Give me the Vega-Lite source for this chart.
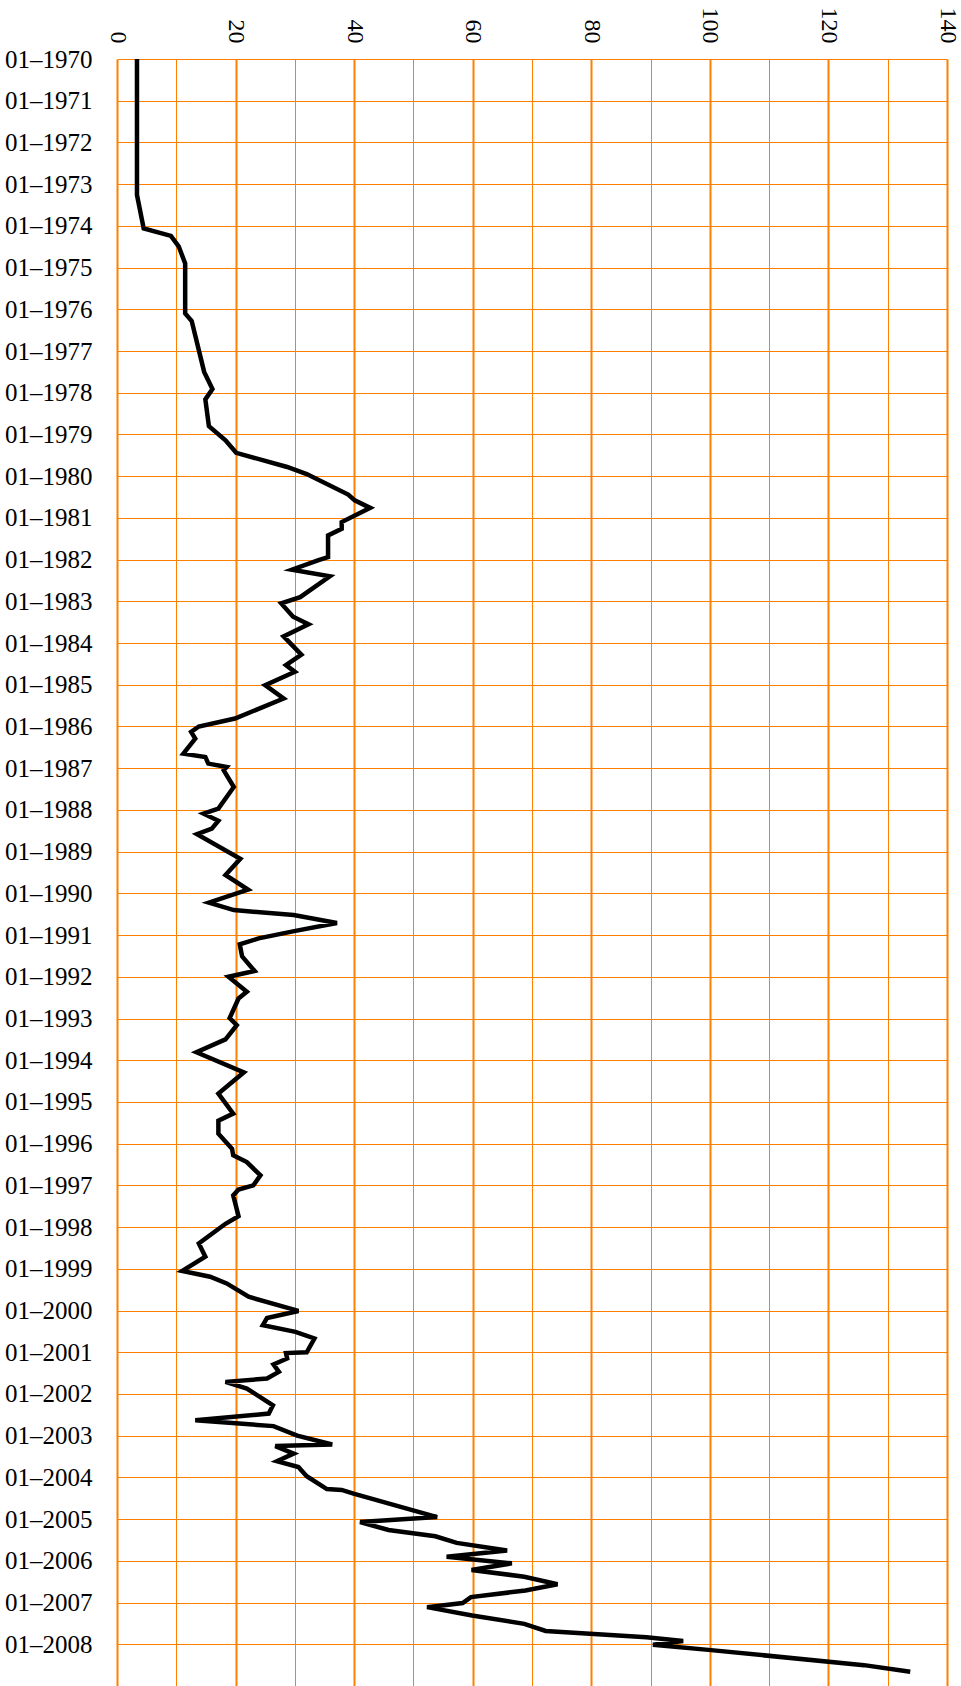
{
  "$schema": "https://vega.github.io/schema/vega-lite/v6.json",
  "autosize": {"type": "none"},
  "width": 830,
  "height": 1627,
  "padding": {"left": 117, "top": 59, "right": 14, "bottom": 0},
  "background": "white",
  "config": {"view": {"stroke": null}, "font": "Liberation Serif"},
  "data": {
    "values": [
      {"year": 1970.0, "value": 3.37},
      {"year": 1973.26, "value": 3.37},
      {"year": 1974.06, "value": 4.5},
      {"year": 1974.24, "value": 9.1},
      {"year": 1974.49, "value": 10.4},
      {"year": 1974.9, "value": 11.5},
      {"year": 1976.1, "value": 11.5},
      {"year": 1976.28, "value": 12.6},
      {"year": 1977.5, "value": 14.7},
      {"year": 1977.91, "value": 16.1},
      {"year": 1978.16, "value": 14.9},
      {"year": 1978.8, "value": 15.5},
      {"year": 1979.14, "value": 18.3},
      {"year": 1979.44, "value": 20.1},
      {"year": 1979.78, "value": 28.7},
      {"year": 1979.95, "value": 32.0},
      {"year": 1980.44, "value": 39.0},
      {"year": 1980.58, "value": 40.1},
      {"year": 1980.76, "value": 42.7},
      {"year": 1981.1, "value": 37.9},
      {"year": 1981.26, "value": 37.9},
      {"year": 1981.42, "value": 35.6},
      {"year": 1981.94, "value": 35.6},
      {"year": 1982.01, "value": 34.0},
      {"year": 1982.24, "value": 29.5},
      {"year": 1982.4, "value": 35.9},
      {"year": 1982.9, "value": 30.9},
      {"year": 1983.05, "value": 27.7},
      {"year": 1983.37, "value": 29.7},
      {"year": 1983.55, "value": 32.3},
      {"year": 1983.84, "value": 28.1},
      {"year": 1984.28, "value": 31.1},
      {"year": 1984.53, "value": 28.5},
      {"year": 1984.69, "value": 30.0},
      {"year": 1985.01, "value": 25.0},
      {"year": 1985.33, "value": 28.1},
      {"year": 1985.81, "value": 19.9},
      {"year": 1986.0, "value": 13.8},
      {"year": 1986.13, "value": 12.5},
      {"year": 1986.29, "value": 13.2},
      {"year": 1986.65, "value": 11.2},
      {"year": 1986.73, "value": 14.9},
      {"year": 1986.89, "value": 15.4},
      {"year": 1986.97, "value": 18.5},
      {"year": 1987.05, "value": 18.0},
      {"year": 1987.45, "value": 19.7},
      {"year": 1987.97, "value": 17.1},
      {"year": 1988.09, "value": 14.6},
      {"year": 1988.26, "value": 17.1},
      {"year": 1988.45, "value": 16.0},
      {"year": 1988.58, "value": 13.5},
      {"year": 1989.17, "value": 20.8},
      {"year": 1989.56, "value": 18.3},
      {"year": 1989.91, "value": 22.1},
      {"year": 1990.22, "value": 15.5},
      {"year": 1990.4, "value": 19.7},
      {"year": 1990.52, "value": 29.8},
      {"year": 1990.71, "value": 37.1},
      {"year": 1990.9, "value": 30.1},
      {"year": 1991.08, "value": 23.9},
      {"year": 1991.22, "value": 20.7},
      {"year": 1991.51, "value": 21.1},
      {"year": 1991.86, "value": 23.2},
      {"year": 1992.0, "value": 18.8},
      {"year": 1992.36, "value": 21.9},
      {"year": 1992.52, "value": 20.5},
      {"year": 1992.99, "value": 19.0},
      {"year": 1993.16, "value": 20.2},
      {"year": 1993.5, "value": 18.3},
      {"year": 1993.81, "value": 13.4},
      {"year": 1994.29, "value": 21.4},
      {"year": 1994.8, "value": 17.1},
      {"year": 1995.28, "value": 19.6},
      {"year": 1995.45, "value": 17.1},
      {"year": 1995.76, "value": 17.1},
      {"year": 1996.12, "value": 19.4},
      {"year": 1996.28, "value": 19.6},
      {"year": 1996.44, "value": 21.9},
      {"year": 1996.76, "value": 24.2},
      {"year": 1997.0, "value": 23.0},
      {"year": 1997.1, "value": 20.5},
      {"year": 1997.24, "value": 19.6},
      {"year": 1997.74, "value": 20.5},
      {"year": 1997.92, "value": 18.3},
      {"year": 1998.39, "value": 13.8},
      {"year": 1998.71, "value": 14.9},
      {"year": 1999.05, "value": 11.0},
      {"year": 1999.19, "value": 15.7},
      {"year": 1999.35, "value": 18.5},
      {"year": 1999.67, "value": 22.2},
      {"year": 2000.01, "value": 30.6},
      {"year": 2000.18, "value": 25.3},
      {"year": 2000.35, "value": 24.6},
      {"year": 2000.51, "value": 30.1},
      {"year": 2000.67, "value": 33.3},
      {"year": 2001.0, "value": 32.0},
      {"year": 2001.02, "value": 28.5},
      {"year": 2001.15, "value": 28.7},
      {"year": 2001.29, "value": 26.4},
      {"year": 2001.47, "value": 27.3},
      {"year": 2001.63, "value": 25.3},
      {"year": 2001.71, "value": 18.3},
      {"year": 2001.87, "value": 21.9},
      {"year": 2002.27, "value": 26.3},
      {"year": 2002.47, "value": 25.6},
      {"year": 2002.63, "value": 13.2},
      {"year": 2002.77, "value": 26.4},
      {"year": 2003.0, "value": 30.4},
      {"year": 2003.21, "value": 36.3},
      {"year": 2003.25, "value": 26.7},
      {"year": 2003.43, "value": 29.8},
      {"year": 2003.61, "value": 27.0},
      {"year": 2003.75, "value": 30.6},
      {"year": 2003.97, "value": 32.0},
      {"year": 2004.28, "value": 35.4},
      {"year": 2004.3, "value": 37.9},
      {"year": 2004.39, "value": 39.9},
      {"year": 2004.95, "value": 54.0},
      {"year": 2005.07, "value": 41.0},
      {"year": 2005.26, "value": 45.8},
      {"year": 2005.41, "value": 53.7},
      {"year": 2005.57, "value": 57.3},
      {"year": 2005.75, "value": 65.8},
      {"year": 2005.9, "value": 55.6},
      {"year": 2006.06, "value": 66.6},
      {"year": 2006.22, "value": 59.8},
      {"year": 2006.38, "value": 68.7},
      {"year": 2006.56, "value": 74.3},
      {"year": 2006.71, "value": 68.9},
      {"year": 2006.87, "value": 59.7},
      {"year": 2007.01, "value": 58.3},
      {"year": 2007.11, "value": 52.3},
      {"year": 2007.31, "value": 59.9},
      {"year": 2007.51, "value": 68.7},
      {"year": 2007.68, "value": 72.3},
      {"year": 2007.83, "value": 89.3},
      {"year": 2007.92, "value": 95.5},
      {"year": 2008.01, "value": 90.4},
      {"year": 2008.14, "value": 100.2},
      {"year": 2008.5, "value": 126.0},
      {"year": 2008.66, "value": 133.8}
    ]
  },
  "mark": {"type": "line", "color": "black", "strokeWidth": 4.5, "strokeJoin": "miter", "strokeCap": "butt"},
  "encoding": {
    "x": {
      "field": "value",
      "type": "quantitative",
      "scale": {"domain": [0, 140], "nice": false, "zero": true},
      "axis": {
        "orient": "top",
        "title": null,
        "values": [0, 10, 20, 30, 40, 50, 60, 70, 80, 90, 100, 110, 120, 130, 140],
        "labelExpr": "datum.value % 20 === 0 ? datum.label : ''",
        "labelAngle": 90,
        "labelAlign": "right",
        "labelBaseline": "middle",
        "labelPadding": 16,
        "labelFont": "Liberation Serif",
        "labelFontSize": 24,
        "labelColor": "black",
        "labelOverlap": false,
        "labelFlush": false,
        "labelBound": false,
        "ticks": false,
        "domain": false,
        "grid": true,
        "gridColor": "#ff8000",
        "gridOpacity": 1,
        "gridWidth": {"condition": {"test": "datum.value % 20 === 0", "value": 2}, "value": 1}
      }
    },
    "y": {
      "field": "year",
      "type": "quantitative",
      "scale": {"domain": [1970, 2009], "nice": false, "zero": false, "reverse": true},
      "axis": {
        "title": null,
        "values": [1970, 1971, 1972, 1973, 1974, 1975, 1976, 1977, 1978, 1979, 1980, 1981, 1982, 1983, 1984, 1985, 1986, 1987, 1988, 1989, 1990, 1991, 1992, 1993, 1994, 1995, 1996, 1997, 1998, 1999, 2000, 2001, 2002, 2003, 2004, 2005, 2006, 2007, 2008],
        "labelExpr": "'01–' + datum.value",
        "labelFont": "Liberation Serif",
        "labelFontSize": 25,
        "labelColor": "black",
        "labelPadding": 25,
        "labelOverlap": false,
        "labelFlush": false,
        "labelBound": false,
        "ticks": false,
        "domain": false,
        "grid": true,
        "gridColor": "#ff8000",
        "gridOpacity": 1,
        "gridWidth": 1
      }
    },
    "order": {"field": "year", "type": "quantitative"}
  }
}
